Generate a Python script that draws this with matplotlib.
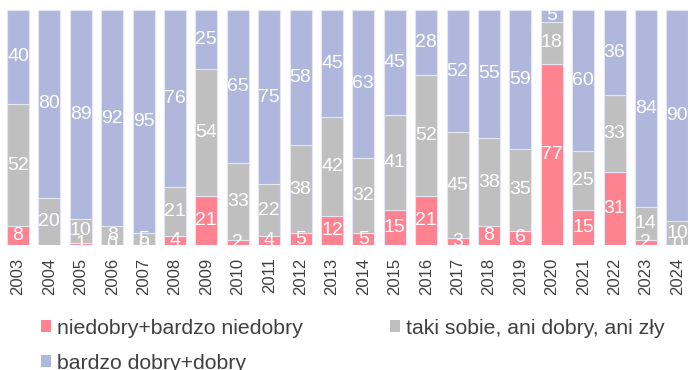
import numpy as np
import matplotlib
matplotlib.use("Agg")
import matplotlib.pyplot as plt
from matplotlib.patches import Patch

years = [str(y) for y in range(2003, 2025)]
bad = [8, np.nan, 1, 0, 0, 4, 21, 2, 4, 5, 12, 5, 15, 21, 3, 8, 6, 77, 15, 31, 2, 0]
neutral = [52, 20, 10, 8, 5, 21, 54, 33, 22, 38, 42, 32, 41, 52, 45, 38, 35, 18, 25, 33, 14, 10]
good = [40, 80, 89, 92, 95, 76, 25, 65, 75, 58, 45, 63, 45, 28, 52, 55, 59, 5, 60, 36, 84, 90]

series_names = ["niedobry+bardzo niedobry", "taki sobie, ani dobry, ani zły", "bardzo dobry+dobry"]
colors = ["#FF8291", "#BFBFBF", "#AFB7DD"]

plt.rcParams["font.family"] = ["Liberation Sans", "DejaVu Sans"]

data = np.array([bad, neutral, good], dtype=float)
totals = np.nansum(data, axis=0)
# 100% stacked: each year's bar fills the full height
shares = np.nan_to_num(data) / totals * 100.0

fig = plt.figure(figsize=(6.88, 3.70), dpi=100)
ax = fig.add_axes([0.0033, 0.338, 1.004, 0.635])

x = np.arange(len(years))
bottom = np.zeros(len(years))
for i in range(3):
    ax.bar(x, shares[i], width=0.7, bottom=bottom, color=colors[i],
           edgecolor="#E4E6F4", linewidth=0.8)
    for j in range(len(years)):
        v = data[i, j]
        if np.isnan(v):
            continue
        yc = bottom[j] + shares[i, j] / 2
        ax.text(x[j], yc, f"{int(v)}", ha="center", va="center",
                color="white", fontsize=14, clip_on=True)
    bottom += shares[i]

ax.set_xlim(-0.5, len(years) - 0.5)
ax.set_ylim(0, 100)
ax.set_yticks([])
ax.set_xticks(x)
ax.set_xticklabels(years, rotation=90, fontsize=12, color="#404040")
ax.tick_params(axis="x", length=0, pad=9)
for s in ax.spines.values():
    s.set_visible(False)

# column-major fill: first row red + gray, second row blue
order = [0, 2, 1]
handles = [Patch(facecolor=colors[k], edgecolor="none") for k in order]
labels = [series_names[k] for k in order]
fig.legend(handles, labels, loc="upper left", bbox_to_anchor=(0.0596, 0.139),
           ncol=2, frameon=False, fontsize=15.3, labelcolor="#404040",
           handlelength=0.47, handleheight=0.47, handletextpad=0.28,
           columnspacing=4.1, labelspacing=0.75, borderaxespad=0, borderpad=0)

fig.savefig("out.png", dpi=100)
